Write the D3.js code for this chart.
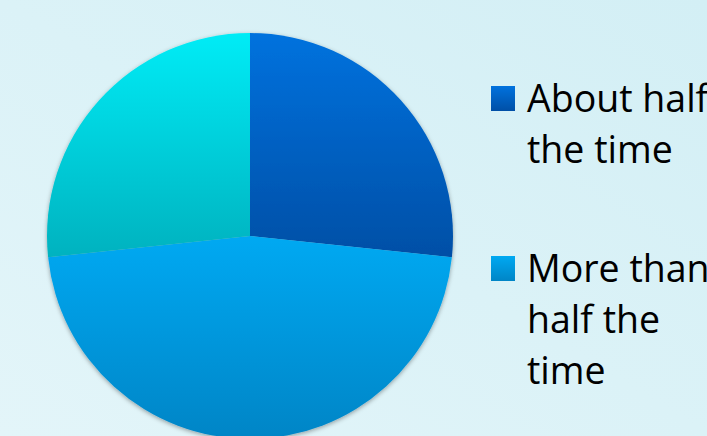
<!DOCTYPE html>
<html>
<head>
<meta charset="utf-8">
<script src="https://cdn.jsdelivr.net/npm/d3@7"></script>
<style>
  html, body { margin: 0; padding: 0; overflow: hidden; }
  svg { display: block; }
</style>
</head>
<body>
<div id="chart"></div>
<script>
// chart data
const categories = ["About half the time", "More than half the time", "Less than half the time"];
const legendLines = [["About half", "the time"], ["More than", "half the", "time"], ["Less than", "half the", "time"]];
const values = [4, 7, 4];
// slice colours, top and bottom of each gradient
const colorsTop = ["#0072de", "#00a9f2", "#00ecf6"];
const colorsBottom = ["#004fa6", "#0085c6", "#00b2bf"];

const width = 707, height = 436;
const cx = 250, cy = 236, radius = 203;

const svg = d3.select("#chart").append("svg")
    .attr("width", width)
    .attr("height", height);

const defs = svg.append("defs");

// background wash
const bg = defs.append("linearGradient").attr("id", "bg")
    .attr("x1", 0).attr("y1", 1).attr("x2", 1).attr("y2", 0);
bg.append("stop").attr("offset", 0).attr("stop-color", "#e3f5f9");
bg.append("stop").attr("offset", 1).attr("stop-color", "#d3eff5");
svg.append("rect").attr("width", width).attr("height", height).attr("fill", "url(#bg)");

// one vertical gradient per slice
categories.forEach((c, i) => {
    const g = defs.append("linearGradient").attr("id", "slice" + i)
        .attr("x1", 0).attr("y1", 0).attr("x2", 0).attr("y2", 1);
    g.append("stop").attr("offset", 0).attr("stop-color", colorsTop[i]);
    g.append("stop").attr("offset", 1).attr("stop-color", colorsBottom[i]);
});

const shadow = defs.append("filter").attr("id", "shadow")
    .attr("x", "-10%").attr("y", "-10%").attr("width", "120%").attr("height", "120%");
shadow.append("feDropShadow")
    .attr("dx", 0).attr("dy", 1.5)
    .attr("stdDeviation", 2)
    .attr("flood-color", "#000")
    .attr("flood-opacity", 0.35);

const pie = d3.pie().sort(null).value(d => d);
const arc = d3.arc().innerRadius(0).outerRadius(radius);

const chart = svg.append("g")
    .attr("transform", `translate(${cx},${cy})`)
    .attr("filter", "url(#shadow)");

chart.selectAll("path.slice")
    .data(pie(values))
    .join("path")
    .classed("slice", true)
    .attr("d", arc)
    .attr("fill", (d, i) => `url(#slice${i})`);

// legend - each entry is pushed down by its own number of lines
const legendX = 491, legendY = 86, lineH = 51, entryPad = 68;
let offsets = [], acc = legendY;
legendLines.forEach(lines => { offsets.push(acc); acc += lines.length * lineH + entryPad; });

const legend = svg.append("g").classed("legend", true);

const entries = legend.selectAll("g.entry")
    .data(categories)
    .join("g")
    .classed("entry", true)
    .attr("transform", (d, i) => `translate(${legendX},${offsets[i]})`);

entries.append("rect")
    .attr("width", 24)
    .attr("height", 25)
    .attr("fill", (d, i) => `url(#slice${i})`);

entries.append("text")
    .attr("x", 36)
    .attr("y", 25.5)
    .attr("font-family", "'Open Sans', sans-serif")
    .attr("font-size", 37.5)
    .attr("fill", "#000")
    .selectAll("tspan")
    .data((d, i) => legendLines[i])
    .join("tspan")
    .attr("x", 36)
    .attr("dy", (d, j) => j === 0 ? 0 : lineH)
    .text(d => d);
</script>
</body>
</html>
